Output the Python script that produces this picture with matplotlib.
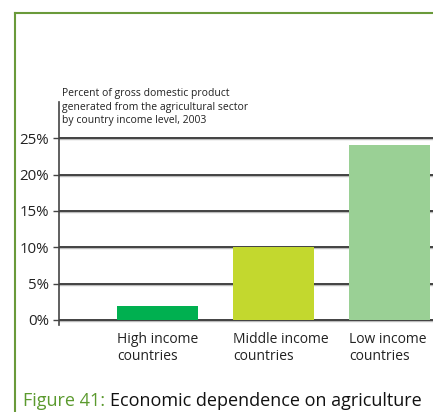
import matplotlib.pyplot as plt
from matplotlib.lines import Line2D

# Данні
categories = ["High income\ncountries", "Middle income\ncountries", "Low income\ncountries"]
values = [1.9, 10.0, 24.1]
colors = ["#00b050", "#c3d82e", "#9ad095"]
yticks = [0, 5, 10, 15, 20, 25]
ytick_labels = ["0%", "5%", "10%", "15%", "20%", "25%"]

plt.rcParams["font.family"] = ["Open Sans", "DejaVu Sans"]

fig = plt.figure(figsize=(4.33, 4.12), dpi=100)
ax = fig.add_axes([59 / 433, 87 / 412, 1 - 59 / 433, 223 / 412])

x = range(len(values))
ax.bar(x, values, width=0.7, color=colors, zorder=3)

# Сітка (темна лінія зі світлою тінню)
for t in yticks:
    ax.axhline(t - 0.15, color="#bbbbbb", lw=1, zorder=1)
    ax.axhline(t, color="#333333", lw=1.3, zorder=2)

ax.set_xlim(-0.85, 2.375)
ax.set_ylim(-0.7, 30)
ax.set_yticks(yticks)
ax.set_yticklabels(ytick_labels, fontsize=10.8, color="#222222")
ax.tick_params(axis="y", length=4, width=1, color="#444444", pad=3)
ax.tick_params(axis="x", length=0)
ax.set_xticks([])
for sp in ["top", "right", "bottom"]:
    ax.spines[sp].set_visible(False)
ax.spines["left"].set_color("#444444")
ax.spines["left"].set_linewidth(1.2)

# Підписи категорій, вирівняні по лівому краю стовпців
for i, lab in enumerate(categories):
    ax.text(i - 0.35, -1.7, lab, fontsize=10, color="#222222",
            ha="left", va="top", linespacing=1.15)

# Пояснення
ax.text(-0.82, 26.7, "Percent of gross domestic product\ngenerated from the agricultural sector\nby country income level, 2003",
        fontsize=7.5, color="#222222", ha="left", va="bottom", linespacing=1.3)

# Рамка
green = "#6a9a3a"
fig.add_artist(Line2D([15 / 433, 1], [1 - 13 / 412, 1 - 13 / 412], color=green, lw=1.5))
fig.add_artist(Line2D([15 / 433, 15 / 433], [0, 1 - 13 / 412], color=green, lw=1.5))

# Підпис рисунка
cap_y = 1 - 401 / 412
t1 = fig.text(23 / 433, cap_y, "Figure 41:", color="#5b9a2e", fontsize=13,
              ha="left", va="center")
renderer = fig.canvas.get_renderer()
bb = t1.get_window_extent(renderer)
fig.text((bb.x1 + 5) / 433, cap_y, "Economic dependence on agriculture", color="#111111",
         fontsize=13, ha="left", va="center")

fig.savefig("out.png", dpi=100)
